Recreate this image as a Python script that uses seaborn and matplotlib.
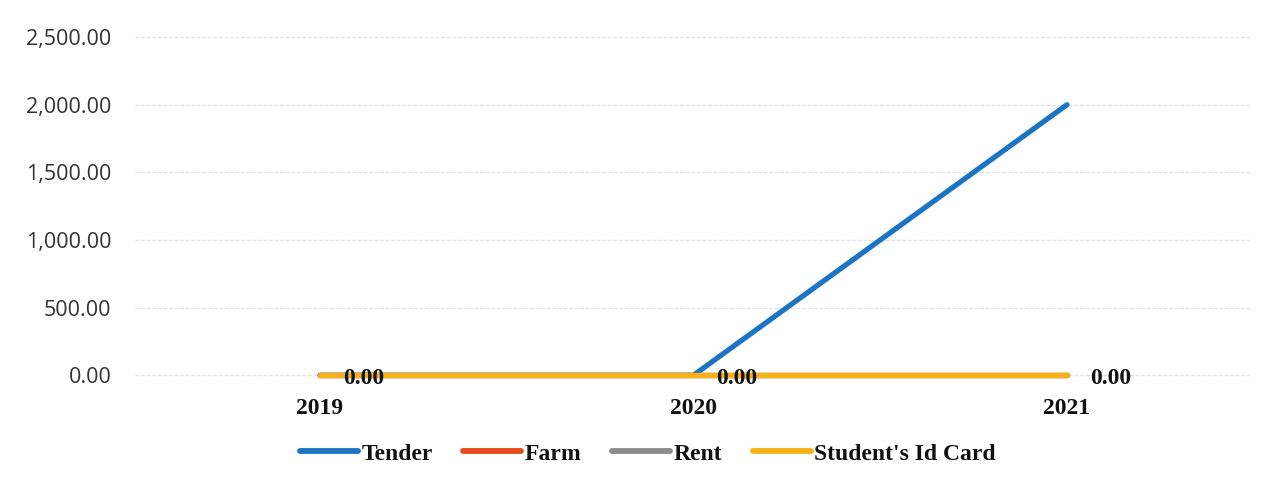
import matplotlib
matplotlib.use("Agg")
import matplotlib.pyplot as plt
import seaborn as sns
import pandas as pd
from matplotlib.ticker import FuncFormatter
from matplotlib.lines import Line2D

years = ["2019", "2020", "2021"]
tender = [0, 0, 2000]
farm = [0, 0, 0]
rent = [0, 0, 0]
student_id = [0, 0, 0]
series_names = ["Tender", "Farm", "Rent", "Student's Id Card"]
colors = ["#1b75c4", "#e8481c", "#8c8c8c", "#f6b114"]

rows = []
for name, vals in zip(series_names, [tender, farm, rent, student_id]):
    for i, v in enumerate(vals):
        rows.append({"pos": i, "year": years[i], "value": v, "series": name})
df = pd.DataFrame(rows)

sns.set_theme(style="white")
plt.rcParams["font.family"] = ["Open Sans", "DejaVu Sans"]

fig = plt.figure(figsize=(12.67, 4.82), dpi=100)
ax = fig.add_axes([135 / 1267, 1 - 395.3 / 482, (1250 - 135) / 1267, (395.3 - 5) / 482])

sns.lineplot(data=df, x="pos", y="value", hue="series", hue_order=series_names,
             palette=colors, linewidth=3.8, ax=ax, legend=False,
             solid_capstyle="round", clip_on=False)

ax.set_xlim(-0.495, 2.49)
ax.set_ylim(-148, 2737)
ax.set_yticks([0, 500, 1000, 1500, 2000, 2500])
ax.yaxis.set_major_formatter(FuncFormatter(lambda v, p: f"{v:,.2f}"))
ax.set_xticks(range(len(years)))
ax.set_xticklabels(years, fontfamily="Liberation Serif", fontweight="bold",
                   fontsize=17, color="#111111")
ax.tick_params(axis="x", length=0, pad=2)
ax.tick_params(axis="y", length=0, pad=17, labelsize=15.5, labelcolor="#333333")
ax.grid(axis="y", color="#e4e4ea", linewidth=1, linestyle=(0, (3, 1)))
ax.grid(axis="x", visible=False)
for s in ax.spines.values():
    s.set_visible(False)
ax.set_xlabel("")
ax.set_ylabel("")

for i, v in enumerate(student_id):
    ax.annotate(f"{v:,.2f}", (i, v), xytext=(16.5, -2), textcoords="offset points",
                ha="left", va="center", fontfamily="Liberation Serif",
                fontweight="bold", fontsize=17, color="#111111")

handles = [Line2D([0], [0], color=c, linewidth=4.2, solid_capstyle="round") for c in colors]
leg = fig.legend(handles, series_names, loc="center", bbox_to_anchor=(648 / 1267, 1 - 454 / 482),
                 ncol=4, frameon=False, handlelength=2.45, handletextpad=0.15, columnspacing=1.3,
                 prop={"family": "Liberation Serif", "weight": "bold", "size": 17})
for t in leg.get_texts():
    t.set_color("#111111")

fig.savefig("out.png", dpi=100)
